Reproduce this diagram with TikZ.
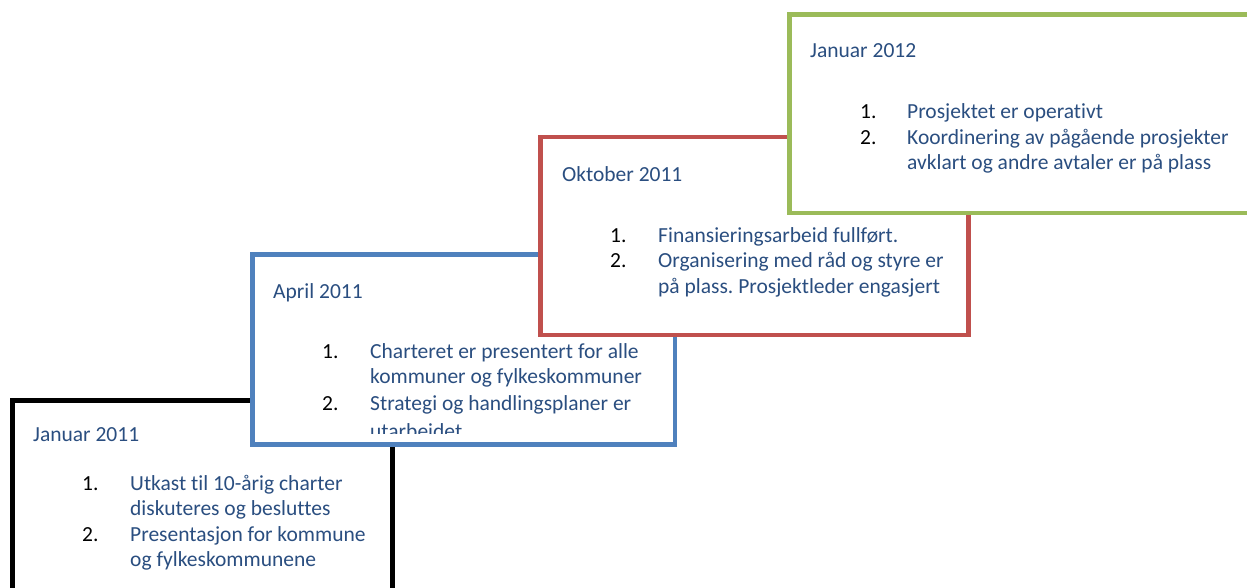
\documentclass[tikz,border=0pt]{standalone}
\usepackage{fontspec}
\setmainfont[Ligatures=NoCommon]{Carlito}
\definecolor{txtblue}{HTML}{2A4E80}
\definecolor{bxblue}{HTML}{4F81BD}
\definecolor{bxred}{HTML}{C0504D}
\definecolor{bxgreen}{HTML}{9BBB59}
\tikzset{
  frame/.style={line width=4.6pt, fill=white},
  head/.style={anchor=base west, inner sep=0pt, text=txtblue, font=\fontsize{21.5}{21.5}\selectfont\frenchspacing},
  num/.style={anchor=base west, inner sep=0pt, text=black, font=\fontsize{21.5}{21.5}\selectfont},
  item/.style={anchor=base west, inner sep=0pt, text=txtblue, font=\fontsize{21.5}{21.5}\selectfont\frenchspacing}
}
\begin{document}
\begin{tikzpicture}[x=1pt,y=-1pt]
\useasboundingbox (0,0) rectangle (1247,587);
\clip (0,0) rectangle (1247,587);
% Januar 2011
\draw[frame, draw=black] (12.5,400.5) rectangle (392.5,600);
\node[head] (h1) at (33,441) {Januar 2011};
\node[num] (n11) at (82,490) {1.};
\node[item] (t11) at (130,490) {Utkast til 10-årig charter};
\node[item] (t12) at (130,515) {diskuteres og besluttes};
\node[num] (n12) at (82,541) {2.};
\node[item] (t13) at (130,541) {Presentasjon for kommune};
\node[item] (t14) at (130,566) {og fylkeskommunene};
% April 2011
\draw[frame, draw=bxblue] (252.5,254.5) rectangle (675,444.5);
\begin{scope}
\clip (255,257) rectangle (672.5,433.5);
\node[head] (h2) at (273,298) {April 2011};
\node[num] (n21) at (322,358) {1.};
\node[item] (t21) at (370,358) {Charteret er presentert for alle};
\node[item] (t22) at (370,383) {kommuner og fylkeskommuner};
\node[num] (n22) at (322,410) {2.};
\node[item] (t23) at (370,410) {Strategi og handlingsplaner er};
\node[item] (t24) at (370,438) {utarbeidet};
\end{scope}
% Oktober 2011
\draw[frame, draw=bxred] (540.5,137) rectangle (968.5,335);
\node[head] (h3) at (562,181) {Oktober 2011};
\node[num] (n31) at (610,242) {1.};
\node[item] (t31) at (658,242) {Finansieringsarbeid fullført.};
\node[num] (n32) at (610,267) {2.};
\node[item] (t32) at (658,267) {Organisering med råd og styre er};
\node[item] (t33) at (658,293) {på plass. Prosjektleder engasjert};
% Januar 2012
\draw[frame, draw=bxgreen] (789.5,14.5) rectangle (1265,213);
\node[head] (h4) at (810,57) {Januar 2012};
\node[num] (n41) at (860,118) {1.};
\node[item] (t41) at (907,118) {Prosjektet er operativt};
\node[num] (n42) at (860,144) {2.};
\node[item] (t42) at (907,144) {Koordinering av pågående prosjekter};
\node[item] (t43) at (907,169) {avklart og andre avtaler er på plass};
\end{tikzpicture}
\end{document}
